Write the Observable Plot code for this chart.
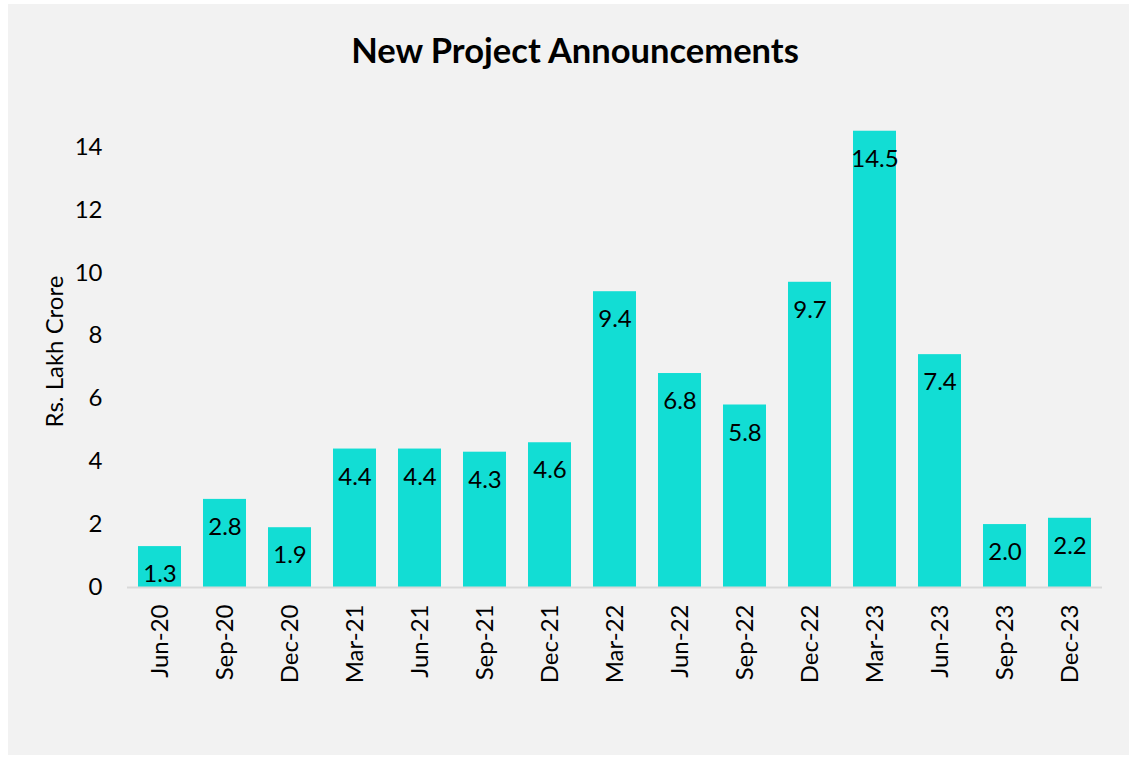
<!DOCTYPE html>
<html>
<head>
<meta charset="utf-8">
<script src="https://cdn.jsdelivr.net/npm/d3@7"></script>
<script src="https://cdn.jsdelivr.net/npm/@observablehq/plot@0.6"></script>
<style>
  html, body { margin: 0; padding: 0; background: #ffffff; }
  #card { position: absolute; left: 8px; top: 4px; width: 1121px; height: 751px; background: #f2f2f2; font-family: Lato, "Open Sans", sans-serif; }
  #title { height: 64px; padding-top: 26px; line-height: 40px; text-align: center; font-size: 34.5px; font-weight: bold; color: #000; padding-left: 13px; box-sizing: content-box; }
  svg { display: block; }
</style>
</head>
<body>
<div id="card">
  <div id="title">New Project Announcements</div>
  <div id="chart"></div>
</div>
<script>
const quarters = ["Jun-20","Sep-20","Dec-20","Mar-21","Jun-21","Sep-21","Dec-21","Mar-22","Jun-22","Sep-22","Dec-22","Mar-23","Jun-23","Sep-23","Dec-23"];
const values = [1.3, 2.8, 1.9, 4.4, 4.4, 4.3, 4.6, 9.4, 6.8, 5.8, 9.7, 14.5, 7.4, 2.0, 2.2];
const yTicks = [0, 2, 4, 6, 8, 10, 12, 14];
const yLabel = "Rs. Lakh Crore";

const data = quarters.map((q, i) => ({quarter: q, value: values[i]}));

const chart = Plot.plot({
  width: 1121,
  height: 661,
  marginLeft: 119,
  marginRight: 27,
  marginTop: 21,
  marginBottom: 168,
  style: {background: "transparent", fontFamily: "Lato, 'Open Sans', sans-serif", fontSize: "24px", color: "#000"},
  x: {domain: quarters, paddingInner: 0.34, paddingOuter: 0.17, label: null},
  y: {domain: [0, 15], label: null},
  marks: [
    Plot.barY(data, {x: "quarter", y: "value", fill: "#12ddd4"}),
    Plot.ruleY([0], {stroke: "#d9d9d9", strokeWidth: 2}),
    Plot.text(data, {x: "quarter", y: "value", text: d => d.value.toFixed(1), dy: 28, fill: "#000", fontSize: 24}),
    Plot.axisY({ticks: yTicks, tickSize: 0, tickPadding: 25, label: null, fontSize: 24}),
    Plot.axisX({tickSize: 0, tickPadding: 17, tickRotate: -90, label: null, fontSize: 24}),
    Plot.text([yLabel], {frameAnchor: "left", textAnchor: "middle", dx: -72, rotate: -90, text: d => d, fontSize: 24, fill: "#000"})
  ]
});
document.getElementById("chart").appendChild(chart);
</script>
</body>
</html>
